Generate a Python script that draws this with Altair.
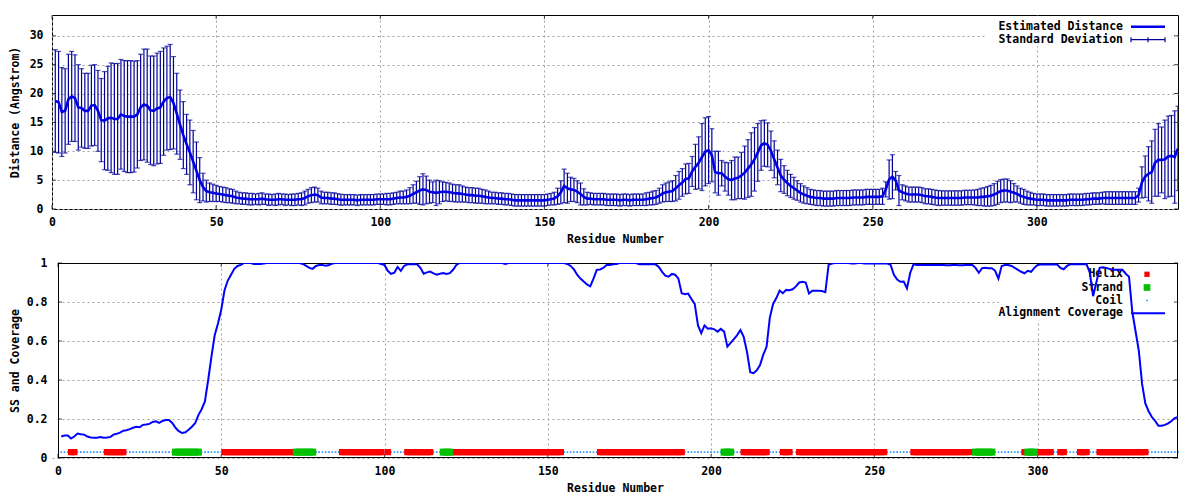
import altair as alt
import pandas as pd

# ---------------- data ----------------
residues = list(range(1, 344))

mean_distance = [
    18.7, 18.5, 16.8, 17.0, 19.0, 19.5, 19.2, 17.6, 17.5, 17.0,
    17.0, 17.9, 18.0, 17.0, 15.4, 15.3, 15.7, 15.8, 15.6, 15.6,
    16.4, 16.1, 16.0, 16.0, 16.0, 16.4, 17.6, 18.1, 17.9, 17.1,
    17.0, 17.4, 17.6, 18.6, 19.2, 19.4, 18.4, 16.5, 14.6, 12.8,
    11.2, 9.8, 8.2, 6.6, 5.0, 3.8, 3.1, 2.9, 2.8, 2.7,
    2.6, 2.5, 2.4, 2.3, 2.2, 2.0, 1.9, 1.8, 1.8, 1.7,
    1.7, 1.7, 1.7, 1.8, 1.7, 1.6, 1.6, 1.6, 1.7, 1.7,
    1.6, 1.6, 1.6, 1.6, 1.7, 1.7, 1.9, 2.2, 2.4, 2.5,
    2.4, 2.0, 1.9, 1.9, 1.8, 1.8, 1.7, 1.6, 1.6, 1.6,
    1.6, 1.6, 1.5, 1.6, 1.6, 1.6, 1.6, 1.6, 1.7, 1.7,
    1.7, 1.7, 1.7, 1.8, 1.9, 2.0, 2.0, 2.1, 2.3, 2.6,
    2.9, 3.2, 3.4, 3.3, 3.0, 2.9, 2.8, 2.9, 3.0, 3.0,
    2.9, 2.8, 2.7, 2.7, 2.6, 2.5, 2.4, 2.4, 2.3, 2.3,
    2.2, 2.1, 2.0, 1.9, 1.9, 1.8, 1.8, 1.7, 1.7, 1.6,
    1.5, 1.5, 1.5, 1.5, 1.5, 1.5, 1.5, 1.5, 1.5, 1.5,
    1.6, 1.7, 1.8, 2.2, 2.9, 4.0, 3.6, 3.4, 3.3, 3.0,
    2.6, 2.1, 1.8, 1.8, 1.7, 1.7, 1.7, 1.7, 1.6, 1.6,
    1.6, 1.6, 1.5, 1.6, 1.6, 1.5, 1.6, 1.6, 1.6, 1.6,
    1.7, 1.8, 1.9, 2.0, 2.3, 2.7, 2.9, 3.0, 3.1, 3.6,
    4.1, 4.6, 5.2, 5.3, 6.5, 7.3, 8.0, 9.0, 9.9, 10.2,
    9.3, 6.4, 6.2, 6.2, 5.6, 5.2, 5.0, 5.3, 5.4, 5.8,
    6.3, 7.0, 7.7, 8.6, 9.8, 11.0, 11.4, 11.1, 10.1, 8.6,
    7.2, 5.8, 5.1, 4.5, 4.0, 3.6, 3.2, 2.8, 2.5, 2.3,
    2.1, 2.0, 1.9, 1.9, 1.8, 1.8, 1.8, 1.8, 1.9, 1.9,
    1.9, 1.9, 1.9, 2.0, 2.0, 2.0, 2.0, 2.1, 2.1, 2.1,
    2.1, 2.1, 2.2, 3.4, 5.1, 5.6, 4.9, 3.2, 2.9, 2.7,
    2.5, 2.5, 2.5, 2.5, 2.4, 2.2, 2.2, 2.1, 2.0, 1.9,
    1.9, 1.9, 1.9, 1.9, 1.9, 1.9, 1.9, 2.0, 2.0, 2.0,
    2.0, 2.0, 2.1, 2.1, 2.2, 2.3, 2.5, 2.8, 3.1, 3.2,
    3.2, 3.0, 2.8, 2.6, 2.3, 2.1, 1.9, 1.8, 1.7, 1.6,
    1.6, 1.6, 1.5, 1.5, 1.5, 1.5, 1.5, 1.5, 1.5, 1.6,
    1.6, 1.6, 1.6, 1.6, 1.7, 1.7, 1.8, 1.8, 1.8, 1.9,
    1.9, 1.9, 1.9, 1.9, 1.9, 1.9, 1.9, 1.9, 1.9, 1.9,
    2.4, 4.6, 5.6, 6.1, 6.4, 8.0, 8.5, 8.5, 8.6, 9.1,
    9.2, 9.0, 10.5,
]

std_deviation = [
    8.9, 8.8, 7.7, 7.3, 7.8, 7.8, 7.5, 7.4, 6.8, 6.5,
    6.5, 7.0, 7.0, 7.0, 7.2, 8.5, 9.0, 9.5, 9.6, 9.6,
    9.5, 9.6, 9.7, 9.7, 9.6, 9.3, 9.2, 9.6, 9.8, 9.4,
    9.5, 9.6, 9.7, 9.3, 9.0, 9.1, 8.0, 7.0, 6.0, 5.8,
    5.2, 5.6, 5.4, 5.0, 3.9, 2.4, 1.9, 1.6, 1.5, 1.4,
    1.3, 1.3, 1.3, 1.2, 1.2, 1.1, 1.0, 1.0, 1.0, 1.0,
    1.0, 0.9, 1.0, 1.0, 0.9, 1.0, 0.9, 1.0, 1.0, 0.9,
    1.0, 0.9, 1.0, 1.0, 1.0, 1.1, 1.2, 1.2, 1.3, 1.3,
    1.2, 1.1, 1.0, 1.0, 1.0, 1.0, 0.95, 0.95, 0.9, 0.9,
    0.9, 0.9, 0.9, 0.9, 0.9, 0.9, 0.9, 0.9, 0.9, 0.9,
    0.9, 1.0, 1.0, 1.0, 1.0, 1.1, 1.1, 1.2, 1.4, 1.6,
    1.9, 2.4, 2.7, 2.4, 2.0, 1.8, 2.2, 2.0, 1.7, 1.6,
    1.6, 1.5, 1.5, 1.5, 1.4, 1.3, 1.3, 1.3, 1.3, 1.3,
    1.2, 1.2, 1.1, 1.0, 1.0, 1.0, 1.0, 1.0, 1.0, 1.0,
    1.0, 1.0, 1.0, 1.0, 1.0, 1.0, 1.0, 1.0, 1.0, 1.0,
    1.0, 1.0, 1.1, 1.4, 2.0, 2.9, 2.6, 2.1, 2.0, 1.9,
    1.9, 1.4, 1.1, 1.0, 1.0, 1.0, 1.0, 1.0, 1.0, 1.0,
    1.0, 1.0, 1.0, 1.0, 1.0, 1.0, 1.0, 1.0, 1.0, 1.0,
    1.1, 1.1, 1.2, 1.2, 1.3, 1.5, 1.6, 1.7, 1.8, 2.2,
    2.4, 2.4, 2.6, 2.6, 2.6, 3.9, 4.5, 5.8, 5.9, 5.8,
    4.6, 3.6, 3.8, 2.2, 2.5, 2.8, 3.4, 3.7, 3.6, 4.0,
    4.6, 5.0, 5.5, 5.5, 5.0, 4.3, 4.0, 3.8, 3.4, 3.2,
    3.0, 2.8, 2.4, 2.2, 2.0, 1.9, 1.7, 1.6, 1.5, 1.4,
    1.3, 1.3, 1.3, 1.3, 1.3, 1.3, 1.3, 1.3, 1.3, 1.3,
    1.3, 1.3, 1.3, 1.3, 1.3, 1.3, 1.3, 1.3, 1.3, 1.3,
    1.3, 1.3, 1.4, 1.3, 3.4, 3.8, 1.6, 2.6, 1.3, 1.3,
    1.3, 1.3, 1.3, 1.3, 1.3, 1.3, 1.3, 1.3, 1.3, 1.3,
    1.25, 1.25, 1.25, 1.25, 1.25, 1.25, 1.25, 1.25, 1.25, 1.25,
    1.3, 1.4, 1.5, 1.6, 1.7, 1.8, 1.9, 2.0, 2.0, 2.0,
    2.0, 1.9, 1.6, 1.4, 1.3, 1.3, 1.2, 1.1, 1.0, 1.0,
    1.0, 1.0, 1.0, 1.0, 1.0, 1.0, 1.0, 1.0, 1.0, 1.0,
    1.0, 1.0, 1.0, 1.0, 1.0, 1.0, 1.0, 1.0, 1.0, 1.0,
    1.1, 1.1, 1.1, 1.1, 1.1, 1.1, 1.1, 1.1, 1.1, 1.1,
    1.2, 2.7, 3.6, 4.7, 5.4, 5.8, 6.3, 5.7, 6.8, 7.0,
    7.0, 8.0, 7.3,
]

alignment_coverage = [
    0.110, 0.115, 0.115, 0.100, 0.110, 0.125, 0.122, 0.120, 0.110, 0.105,
    0.104, 0.104, 0.107, 0.104, 0.105, 0.108, 0.120, 0.124, 0.130, 0.140,
    0.142, 0.148, 0.155, 0.160, 0.158, 0.170, 0.172, 0.175, 0.185, 0.188,
    0.180, 0.190, 0.195, 0.195, 0.180, 0.155, 0.138, 0.128, 0.132, 0.145,
    0.160, 0.178, 0.220, 0.250, 0.290, 0.400, 0.520, 0.630, 0.690, 0.760,
    0.860, 0.910, 0.940, 0.970, 0.985, 0.990, 1.000, 1.000, 1.000, 0.995,
    0.995, 0.995, 0.997, 1.000, 1.000, 1.000, 1.000, 1.000, 1.000, 1.000,
    1.000, 1.000, 1.000, 1.000, 0.995, 0.985, 0.975, 0.970, 0.985, 0.990,
    0.990, 0.986, 0.990, 0.997, 1.000, 1.000, 1.000, 1.000, 1.000, 1.000,
    1.000, 1.000, 1.000, 1.000, 1.000, 1.000, 1.000, 1.000, 0.995, 0.990,
    0.960, 0.944, 0.950, 0.980, 0.960, 0.985, 0.993, 0.993, 0.993, 0.993,
    0.975, 0.945, 0.952, 0.956, 0.947, 0.940, 0.945, 0.948, 0.944, 0.948,
    0.965, 0.990, 1.000, 1.000, 1.000, 1.000, 1.000, 1.000, 1.000, 1.000,
    1.000, 1.000, 1.000, 1.000, 1.000, 1.000, 0.995, 1.000, 1.000, 1.000,
    1.000, 1.000, 1.000, 1.000, 1.000, 1.000, 1.000, 1.000, 1.000, 1.000,
    1.000, 1.000, 1.000, 1.000, 1.000, 0.995, 0.985, 0.967, 0.940, 0.920,
    0.905, 0.890, 0.880, 0.920, 0.965, 0.967, 0.975, 0.990, 0.990, 0.993,
    0.995, 1.000, 1.000, 1.000, 1.000, 1.000, 1.000, 0.993, 0.993, 0.993,
    0.993, 0.993, 0.993, 0.980, 0.955, 0.935, 0.930, 0.944, 0.940, 0.920,
    0.845, 0.840, 0.843, 0.815, 0.790, 0.680, 0.640, 0.680, 0.663, 0.665,
    0.660, 0.648, 0.662, 0.648, 0.571, 0.590, 0.610, 0.630, 0.656, 0.622,
    0.545, 0.440, 0.435, 0.450, 0.477, 0.530, 0.570, 0.720, 0.790, 0.820,
    0.858, 0.845, 0.862, 0.860, 0.865, 0.880, 0.900, 0.904, 0.900, 0.844,
    0.858, 0.858, 0.858, 0.856, 0.850, 0.990, 0.997, 1.000, 1.000, 1.000,
    1.000, 1.000, 0.997, 0.997, 1.000, 1.000, 0.997, 0.997, 0.997, 0.997,
    0.997, 0.997, 0.997, 0.997, 0.990, 0.940, 0.915, 0.904, 0.905, 0.870,
    0.950, 0.993, 0.990, 0.990, 0.990, 0.990, 0.990, 0.990, 0.990, 0.990,
    0.990, 0.988, 0.988, 0.990, 0.990, 0.988, 0.988, 0.990, 0.990, 0.990,
    0.975, 0.950, 0.973, 0.975, 0.973, 0.973, 0.960, 0.920, 0.985, 0.990,
    0.990, 0.985, 0.975, 0.965, 0.955, 0.947, 0.960, 0.955, 0.975, 0.990,
    0.992, 0.992, 0.992, 0.992, 0.992, 0.992, 0.975, 0.968, 0.985, 0.993,
    0.993, 0.993, 0.993, 0.993, 0.993, 0.950, 0.830, 0.900, 0.975, 0.978,
    0.975, 0.970, 0.965, 0.965, 0.965, 0.965, 0.945, 0.930, 0.750, 0.650,
    0.550, 0.380, 0.280, 0.240, 0.210, 0.190, 0.165, 0.165, 0.170, 0.178,
    0.190, 0.205, 0.210,
]

# secondary structure as (type, run length) segments, residue 1 onward
ss_segments = [
    ("C", 3), ("H", 2), ("C", 9), ("H", 6), ("C", 15), ("E", 8), ("C", 7),
    ("H", 22), ("E", 6), ("C", 8), ("H", 13), ("C", 1), ("H", 1), ("C", 5),
    ("H", 8), ("C", 3), ("E", 3), ("H", 34), ("C", 11), ("H", 26), ("C", 12),
    ("E", 3), ("C", 3), ("H", 8), ("C", 4), ("H", 3), ("C", 2), ("H", 27),
    ("C", 8), ("H", 18), ("C", 1), ("E", 6), ("C", 9), ("H", 1), ("E", 3),
    ("H", 5), ("C", 2), ("H", 2), ("C", 4), ("H", 3), ("C", 3), ("H", 15),
    ("C", 10),
]
ss_level = 0.03

x_ticks = [0, 50, 100, 150, 200, 250, 300]
top_y_ticks = [0, 5, 10, 15, 20, 25, 30]
bottom_y_ticks = [0, 0.2, 0.4, 0.6, 0.8, 1.0]

# ---------------- tables ----------------
ss_codes = []
for code, n in ss_segments:
    ss_codes.extend([code] * n)

top_df = pd.DataFrame({"residue": residues, "mean": mean_distance, "std": std_deviation})
top_df["lo"] = top_df["mean"] - top_df["std"]
top_df["hi"] = top_df["mean"] + top_df["std"]

bot_df = pd.DataFrame({"residue": residues, "coverage": alignment_coverage,
                       "ss": ss_codes, "level": [ss_level] * len(residues)})

xtick_df = pd.DataFrame({"residue": x_ticks})
top_ytick_df = pd.DataFrame({"val": top_y_ticks})
bot_ytick_df = pd.DataFrame({"val": bottom_y_ticks})

one = pd.DataFrame({"k": [0]})

FONT = "DejaVu Sans Mono"
FS = 11.5
LINE_BLUE = "#0000e6"
BAR_BLUE = "#000099"

W, TOP_H, BOT_H = 1126, 194, 195
# the lower frame starts INSET px right of the shared origin (wider tick labels)
INSET = 6
X_MAX = 343
PX_PER_RES = W / X_MAX
BOT_X_MIN = -INSET / PX_PER_RES
TICK = 4


def xenc(xmin=0):
    return alt.X("residue:Q",
                 scale=alt.Scale(domain=[xmin, X_MAX], nice=False, zero=False),
                 axis=alt.Axis(values=x_ticks, title="Residue Number", grid=True,
                               labelFlush=False, labelPadding=7, titlePadding=6))


def ytop(field):
    return alt.Y(f"{field}:Q",
                 scale=alt.Scale(domain=[0, 33.6], nice=False, zero=True),
                 axis=alt.Axis(values=top_y_ticks, title="Distance (Angstrom)", grid=True,
                               labelPadding=9, titlePadding=9))


def ybot(field):
    return alt.Y(f"{field}:Q",
                 scale=alt.Scale(domain=[0, 1], nice=False),
                 axis=alt.Axis(values=bottom_y_ticks, format="~g", title="SS and Coverage",
                               grid=True, labelPadding=INSET - 1, titlePadding=6))


def label(text, x, y):
    return alt.Chart(one).mark_text(
        text=text, align="right", baseline="middle", font=FONT, fontSize=FS,
        fontWeight="bold", color="black"
    ).encode(x=alt.value(x), y=alt.value(y))


def hrule(x1, x2, y, color, width):
    return alt.Chart(one).mark_rule(color=color, strokeWidth=width).encode(
        x=alt.value(x1), x2=alt.value(x2), y=alt.value(y))


def vrule(x, y1, y2, color, width):
    return alt.Chart(one).mark_rule(color=color, strokeWidth=width).encode(
        x=alt.value(x), y=alt.value(y1), y2=alt.value(y2))


def white_box(x1, x2, y1, y2):
    return alt.Chart(one).mark_rect(color="white").encode(
        x=alt.value(x1), x2=alt.value(x2), y=alt.value(y1), y2=alt.value(y2))


def inner_ticks(xmin, yfun, ydf, height, left):
    """gnuplot-style inward ticks on all four borders"""
    xt = alt.Chart(xtick_df).mark_tick(orient="vertical", size=TICK, thickness=1, color="black")
    yt = alt.Chart(ydf).mark_tick(orient="horizontal", size=TICK, thickness=1, color="black")
    return [
        xt.encode(x=xenc(xmin), y=alt.value(height - TICK / 2)),
        xt.encode(x=xenc(xmin), y=alt.value(TICK / 2)),
        yt.encode(y=yfun("val"), x=alt.value(left + TICK / 2)),
        yt.encode(y=yfun("val"), x=alt.value(W - TICK / 2)),
    ]


# ---------------- top panel ----------------
base_top = alt.Chart(top_df)
err = base_top.mark_rule(color=BAR_BLUE, strokeWidth=1.2, clip=True).encode(
    x=xenc(), y=ytop("lo"), y2="hi:Q")
cap_lo = base_top.mark_tick(color=BAR_BLUE, orient="horizontal", size=5, thickness=1.2,
                            clip=True).encode(x=xenc(), y=ytop("lo"))
cap_hi = base_top.mark_tick(color=BAR_BLUE, orient="horizontal", size=5, thickness=1.2,
                            clip=True).encode(x=xenc(), y=ytop("hi"))
mean_line = base_top.mark_line(color=LINE_BLUE, strokeWidth=2.6, clip=True).encode(
    x=xenc(), y=ytop("mean"))

top_legend = [
    white_box(935, 1122, 1, 31),
    label("Estimated Distance", 1071, 11.7),
    label("Standard Deviation", 1071, 24.7),
    hrule(1079, 1113, 11.7, LINE_BLUE, 2.6),
    hrule(1079, 1113, 24.7, BAR_BLUE, 1.2),
    vrule(1079, 22.2, 27.2, BAR_BLUE, 1.2),
    vrule(1096, 22.2, 27.2, BAR_BLUE, 1.2),
    vrule(1113, 22.2, 27.2, BAR_BLUE, 1.2),
]

top = alt.layer(err, *inner_ticks(0, ytop, top_ytick_df, TOP_H, 0), *top_legend,
                cap_lo, cap_hi, mean_line).properties(width=W, height=TOP_H)

# ---------------- bottom panel ----------------
base_bot = alt.Chart(bot_df)
coil = base_bot.transform_filter(alt.datum.ss == "C").mark_square(
    color="#1e8cff", size=2.5, opacity=1).encode(x=xenc(BOT_X_MIN), y=ybot("level"))
helix = base_bot.transform_filter(alt.datum.ss == "H").mark_square(
    color="#ff0000", size=40, opacity=1).encode(x=xenc(BOT_X_MIN), y=ybot("level"))
strand = base_bot.transform_filter(alt.datum.ss == "E").mark_square(
    color="#00c000", size=50, opacity=1).encode(x=xenc(BOT_X_MIN), y=ybot("level"))
cov_line = base_bot.mark_line(color="#0000ff", strokeWidth=2, clip=True).encode(
    x=xenc(BOT_X_MIN), y=ybot("coverage"))


def marker(x, y, color, size):
    return alt.Chart(one).mark_square(color=color, size=size, opacity=1).encode(
        x=alt.value(x), y=alt.value(y))


frame = [
    white_box(0, INSET - 0.5, 0, BOT_H),
    vrule(INSET + 0.5, 0, BOT_H, "black", 1),
    vrule(W - 0.5, 0, BOT_H, "black", 1),
    hrule(INSET, W, 0.5, "black", 1),
    hrule(INSET, W, BOT_H - 0.5, "black", 1),
]

bot_legend = [
    white_box(947, 1122, 1, 57),
    label("Helix", 1071, 11.3),
    label("Strand", 1071, 24.5),
    label("Coil", 1071, 37.5),
    label("Alignment Coverage", 1071, 50.3),
    marker(1095, 11.3, "#ff0000", 28),
    marker(1095, 24.5, "#00c000", 45),
    marker(1095, 37.5, "#1e8cff", 2.5),
    hrule(1079, 1113, 50.3, "#0000ff", 2),
]

bottom = alt.layer(coil, *frame, *inner_ticks(BOT_X_MIN, ybot, bot_ytick_df, BOT_H, INSET),
                   *bot_legend, helix, strand, cov_line).properties(
    width=W, height=BOT_H, view=alt.ViewBackground(strokeWidth=0))

chart = alt.vconcat(top, bottom, spacing=11).configure(
    padding={"left": 0, "top": 6, "right": 0, "bottom": 0},
    background="white",
).configure_view(
    stroke="black", strokeWidth=1
).configure_axis(
    labelFont=FONT, labelFontSize=FS, labelFontWeight="bold", labelColor="black",
    titleFont=FONT, titleFontSize=FS, titleFontWeight="bold", titleColor="black",
    gridColor="#a0a0a0", gridDash=[2, 3], gridWidth=1, gridOpacity=1,
    domain=False, ticks=False,
)

chart.save("out.html", embed_options={"renderer": "svg", "actions": False})
